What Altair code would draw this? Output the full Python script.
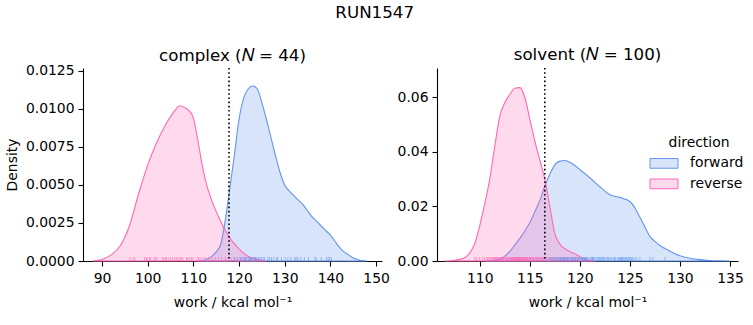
import altair as alt
import pandas as pd

FONT = "DejaVu Sans"
BLUE = "#6495ED"
PINK = "#FF69B4"
BLUE_FILL = "rgba(100,149,237,0.25)"
PINK_FILL = "rgba(255,105,180,0.25)"
DIRECTIONS = ["forward", "reverse"]

# ---- complex: density curves ----
cx_rev_x = [88, 90, 92, 94, 96, 98, 100, 102, 104, 106, 107, 108, 109, 110, 111, 112,
            113, 114, 116, 118, 120, 122, 124, 126]
cx_rev_d = [0.0, 0.0001, 0.0004, 0.0010, 0.0023, 0.0044, 0.0063, 0.0078, 0.0090, 0.0099,
            0.0102, 0.0101, 0.0099, 0.0094, 0.0079, 0.0062, 0.0049, 0.0040, 0.0026, 0.0015,
            0.0008, 0.0003, 0.0001, 0.0]
cx_fwd_x = [111, 112, 113, 114, 115, 116, 117, 118, 119, 120, 121, 122, 123, 124, 125, 126,
            127, 128, 129, 130, 131, 132, 133, 134, 135, 136, 137, 138, 139, 140, 141, 142,
            143, 144, 145, 146, 147, 148]
cx_fwd_d = [0.0, 0.00003, 0.00013, 0.0003, 0.0006, 0.0011, 0.0027, 0.0048, 0.0070, 0.0093,
            0.0107, 0.0113, 0.0115, 0.0113, 0.0104, 0.0093, 0.0081, 0.0069, 0.0058, 0.0050,
            0.0046, 0.0043, 0.0040, 0.0037, 0.0033, 0.0029, 0.0026, 0.0023, 0.0020, 0.0017,
            0.0013, 0.0009, 0.0006, 0.0004, 0.0002, 0.0001, 0.00003, 0.0]

# ---- solvent: density curves ----
sv_rev_x = [106.5, 107, 107.5, 108, 108.5, 109, 109.5, 110, 110.5, 111, 111.5, 112, 112.5,
            113, 113.5, 114, 114.5, 115, 115.5, 116, 116.5, 117, 117.5, 118, 118.5, 119,
            119.5, 120, 120.5, 121, 121.5]
sv_rev_d = [0.0, 0.0001, 0.0003, 0.0006, 0.0012, 0.0030, 0.0063, 0.013, 0.021, 0.030, 0.042,
            0.053, 0.058, 0.061, 0.0633, 0.0635, 0.060, 0.052, 0.044, 0.037, 0.030, 0.020,
            0.010, 0.0062, 0.0045, 0.0035, 0.0027, 0.0016, 0.0007, 0.0002, 0.0]
sv_fwd_x = [110.5, 111, 111.5, 112, 112.5, 113, 113.5, 114, 114.5, 115, 115.5, 116, 116.5,
            117, 117.5, 118, 118.5, 119, 119.5, 120, 121, 122, 123, 124, 125, 125.5, 126,
            126.5, 127, 127.5, 128, 129, 130, 131, 132, 133, 134, 135]
sv_fwd_d = [0.0, 0.0001, 0.0003, 0.0008, 0.0018, 0.0035, 0.0058, 0.0083, 0.0110, 0.0140,
            0.0180, 0.0222, 0.0275, 0.0318, 0.0352, 0.0366, 0.0368, 0.0362, 0.0350, 0.0335,
            0.0305, 0.0272, 0.0243, 0.0233, 0.0218, 0.0195, 0.0160, 0.0125, 0.0090, 0.0072,
            0.0057, 0.0036, 0.0019, 0.0010, 0.0005, 0.0002, 0.00005, 0.0]

# ---- rug samples (work values) ----
cx_rev_w = [96.1, 96.8, 97.2, 99.3, 99.7, 99.9, 100.4, 100.6, 101.4, 101.7,
            102.1, 103.2, 103.5, 103.9, 104.1, 104.5, 105.0, 105.4, 105.9, 106.3,
            106.7, 107.1, 107.4, 107.7, 108.5, 108.8, 109.2, 109.6, 109.9, 110.8,
            111.2, 111.5, 112.1, 112.7, 113.4, 114.0, 114.8, 115.5, 116.2, 117.0,
            117.6, 118.3, 119.1, 120.4]
cx_fwd_w = [118.9, 119.6, 120.2, 120.5, 120.9, 121.2, 121.4, 121.6, 122.0, 122.3,
            122.5, 122.7, 123.1, 123.4, 123.6, 123.8, 124.2, 124.5, 124.9, 125.3,
            125.6, 126.3, 126.7, 127.1, 127.6, 128.2, 128.5, 129.3, 130.1, 130.7,
            131.4, 132.2, 132.5, 132.9, 133.5, 134.3, 135.2, 136.6, 136.9, 138.0,
            139.1, 139.5, 139.8, 140.2]
sv_rev_w = [109.5, 109.7, 110.0, 110.3, 110.5, 110.7, 110.8, 110.9, 111.0, 111.1,
            111.2, 111.3, 111.4, 111.5, 111.6, 111.7, 111.8, 111.9, 112.0, 112.1,
            112.2, 112.3, 112.4, 112.5, 112.6, 112.7, 112.8, 112.9, 113.0, 113.1,
            113.15, 113.2, 113.3, 113.35, 113.4, 113.5, 113.55, 113.6, 113.7, 113.75,
            113.8, 113.9, 113.95, 114.0, 114.1, 114.15, 114.2, 114.3, 114.35, 114.4,
            114.5, 114.6, 114.65, 114.7, 114.8, 114.9, 115.0, 115.1, 115.2, 115.3,
            115.4, 115.5, 115.6, 115.7, 115.8, 115.9, 116.0, 116.1, 116.2, 116.3,
            116.4, 116.5, 116.6, 116.8, 117.0, 117.2, 117.4, 117.7, 118.1, 118.6,
            119.2, 119.8, 113.45, 113.65, 113.85, 114.05, 114.25, 114.45, 114.55, 112.35,
            112.65, 112.95, 113.25, 111.45, 111.75, 112.15, 115.05, 115.35, 115.65, 114.75]
sv_fwd_w = [113.8, 115.0, 115.9, 116.3, 116.6, 116.8, 117.0, 117.1, 117.2, 117.3,
            117.4, 117.5, 117.6, 117.7, 117.8, 117.9, 118.0, 118.05, 118.1, 118.2,
            118.3, 118.35, 118.4, 118.5, 118.6, 118.7, 118.8, 118.9, 119.0, 119.1,
            119.2, 119.3, 119.4, 119.5, 119.6, 119.7, 119.8, 119.9, 120.0, 120.1,
            120.2, 120.3, 120.4, 120.5, 120.6, 120.7, 120.8, 121.0, 121.1, 121.2,
            121.3, 121.4, 121.5, 121.7, 121.8, 121.9, 122.0, 122.2, 122.3, 122.4,
            122.5, 122.7, 122.8, 122.9, 123.1, 123.2, 123.4, 123.5, 123.6, 123.8,
            123.9, 124.0, 124.1, 124.2, 124.3, 124.4, 124.5, 124.6, 124.7, 124.8,
            124.9, 125.0, 125.1, 125.2, 125.3, 125.5, 125.7, 126.0, 127.0, 127.3,
            128.5, 118.45, 118.75, 119.25, 119.55, 120.25, 120.55, 121.25, 122.1, 124.15]

# vertical dotted reference lines
cx_line = [117.8]
sv_line = [116.5]

# axes
cx_xticks = [90, 100, 110, 120, 130, 140, 150]
cx_yticks = [0.0, 0.0025, 0.005, 0.0075, 0.01, 0.0125]
sv_xticks = [110, 115, 120, 125, 130, 135]
sv_yticks = [0.0, 0.02, 0.04, 0.06]
cx_xdom = [85.84, 151.3]
cx_ydom = [0.0, 0.01268]
sv_xdom = [105.73, 135.8]
sv_ydom = [0.0, 0.0707]

H = 193
SYMBOL = "M-1.65,-0.57L1.65,-0.57L1.65,0.57L-1.65,0.57Z"


def curves_df(fx, fd, rx, rd):
    return pd.concat([
        pd.DataFrame({"work": fx, "density": fd, "direction": "forward"}),
        pd.DataFrame({"work": rx, "density": rd, "direction": "reverse"}),
    ])


def rug_df(fw, rw):
    return pd.concat([
        pd.DataFrame({"work": fw, "direction": "forward"}),
        pd.DataFrame({"work": rw, "direction": "reverse"}),
    ])


def legend():
    return alt.Legend(title="direction", orient="none", legendX=572, legendY=68,
                      symbolType=SYMBOL, symbolSize=289, symbolStrokeWidth=1,
                      labelOffset=17, rowPadding=4.5, titleAnchor="middle",
                      titlePadding=4.5)


def panel(cdf, rdf, line, xdom, ydom, xticks, yticks, yfmt, title, ytitle, w, toff):
    x = alt.X("work:Q", scale=alt.Scale(domain=xdom, nice=False, zero=False),
              axis=alt.Axis(values=xticks, format="d", title="work / kcal mol\u207b\u00b9",
                            titlePadding=11, labelPadding=5))
    fill = alt.Fill("direction:N",
                    scale=alt.Scale(domain=DIRECTIONS, range=[BLUE_FILL, PINK_FILL]),
                    legend=legend())
    stroke = alt.Stroke("direction:N",
                        scale=alt.Scale(domain=DIRECTIONS, range=[BLUE, PINK]),
                        legend=legend())
    yaxis = alt.Axis(values=yticks, format=yfmt, title=ytitle) if ytitle else \
        alt.Axis(values=yticks, format=yfmt, title=None)
    area = alt.Chart(cdf).mark_area(strokeWidth=1.1, interpolate="monotone").encode(
        x=x,
        y=alt.Y("density:Q", scale=alt.Scale(domain=ydom, nice=False), axis=yaxis,
                stack=False),
        fill=fill,
        stroke=stroke,
        detail="direction:N",
    )
    rug = alt.Chart(rdf).mark_rule(strokeWidth=1, opacity=0.6).encode(
        x=x, y=alt.value(H), y2=alt.value(H - 4), stroke=stroke)
    vline = alt.Chart(pd.DataFrame({"work": line})).mark_rule(
        color="black", strokeWidth=1.6, strokeDash=[1.6, 2.6]).encode(x=x)
    return alt.layer(area, rug, vline).properties(
        width=w, height=H,
        title=alt.TitleParams(title, fontSize=16.7, offset=toff))


left = panel(curves_df(cx_fwd_x, cx_fwd_d, cx_rev_x, cx_rev_d), rug_df(cx_fwd_w, cx_rev_w),
             cx_line, cx_xdom, cx_ydom, cx_xticks, cx_yticks, ".4f",
             "complex (\U0001D441 = 44)", "Density", 299, -1)
right = panel(curves_df(sv_fwd_x, sv_fwd_d, sv_rev_x, sv_rev_d), rug_df(sv_fwd_w, sv_rev_w),
              sv_line, sv_xdom, sv_ydom, sv_xticks, sv_yticks, ".2f",
              "solvent (\U0001D441 = 100)", None, 301, 4)

chart = alt.hconcat(left, right, spacing=55, bounds="flush").resolve_scale(
    fill="shared", stroke="shared"
).properties(
    title=alt.TitleParams("RUN1547", fontSize=16.7, anchor="middle", offset=25),
    padding={"left": 5, "top": 4, "right": 5, "bottom": 5},
).configure(font=FONT).configure_view(strokeWidth=0).configure_axis(
    labelFont=FONT, labelFontSize=13.9, labelColor="black",
    titleFont=FONT, titleFontSize=13.9, titleFontWeight="normal", titleColor="black",
    domainColor="black", domainWidth=1.1, tickColor="black", tickWidth=1.1,
    tickSize=5, grid=False, labelPadding=4, titlePadding=6, zindex=1,
).configure_title(
    font=FONT, fontWeight="normal", color="black",
).configure_legend(
    labelFont=FONT, labelFontSize=13.9, labelColor="black",
    titleFont=FONT, titleFontSize=13.9, titleFontWeight="normal", titleColor="black",
)

chart.save("out.html", embed_options={"renderer": "svg", "actions": False})
